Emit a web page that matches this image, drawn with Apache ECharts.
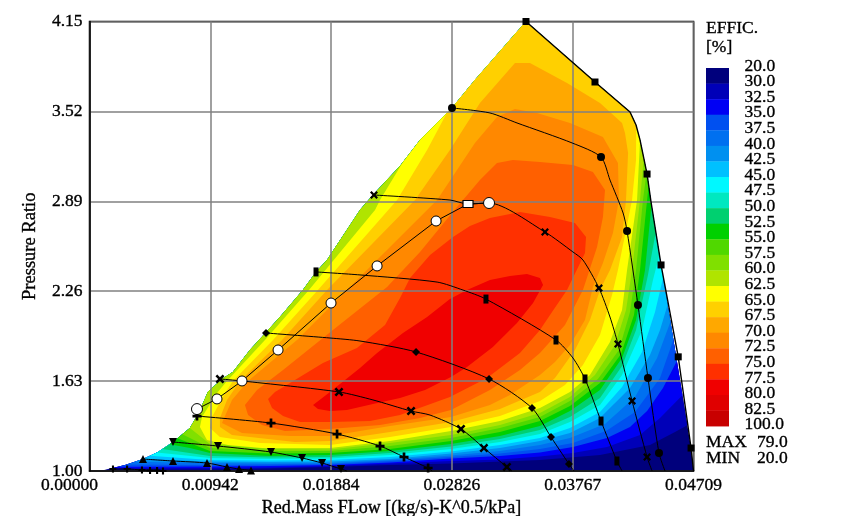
<!DOCTYPE html>
<html><head><meta charset="utf-8">
<style>html,body{margin:0;padding:0;background:#fff}#c{width:847px;height:516px}</style>
<script src="https://cdn.jsdelivr.net/npm/echarts@6/dist/echarts.min.js"></script>
</head><body><div id="c"></div>
<script>
const xTickLabels=['0.00000','0.00942','0.01884','0.02826','0.03767','0.04709'];
const legendLabels=['20.0','30.0','32.5','35.0','37.5','40.0','42.5','45.0','47.5','50.0','52.5','55.0','57.5','60.0','62.5','65.0','67.5','70.0','72.5','75.0','77.5','80.0','82.5','100.0'];
const bandColors=['#00007c','#0000b8','#0000f4','#0050f0','#0070f0','#0090f0','#00c0ff','#00f8ff','#00e8c0','#00d070','#00d000','#50d800','#80e000','#b0e400','#ffff00','#ffd000','#ffa800','#ff8800','#ff6000','#ff3000','#f00000','#e00000','#c80000'];
const maxEff='79.0', minEff='20.0';
// performance-map envelope: flow, pressure ratio
const envelope=[[.00082,1],[.00277,1.042],[.00417,1.084],[.00534,1.133],[.00651,1.203],[.00783,1.301],[.00838,1.385],[.00869,1.441],[.00923,1.554],[.01033,1.645],[.01118,1.694],[.01251,1.848],[.01485,2.079],[.01664,2.268],[.01766,2.395],[.01852,2.479],[.02109,2.829],[.0221,2.934],[.02421,3.137],[.02577,3.32],[.02826,3.544],[.03005,3.74],[.03403,4.15],[.03941,3.726],[.04214,3.516],[.04261,3.425],[.04292,3.32],[.04347,3.081],[.04378,2.885],[.04456,2.444],[.04573,1.806],[.0469,1.161],[.04709,1]];
// efficiency contours that end on the envelope
const c30=[[.00129,1.007],[.00939,1.011],[.01407,1.018],[.01875,1.028],[.02343,1.042],[.02818,1.053],[.03512,1.077],[.0398,1.112],[.0437,1.182],[.04565,1.273],[.04674,1.322]];
const c32=[[.00176,1.018],[.00939,1.021],[.01407,1.025],[.01875,1.035],[.02343,1.053],[.02818,1.07],[.032,1.081],[.03512,1.102],[.03769,1.126],[.04035,1.168],[.04292,1.252],[.04448,1.371],[.04635,1.533]];
const c35=[[.00222,1.028],[.00939,1.032],[.01407,1.035],[.01875,1.042],[.02343,1.06],[.02818,1.088],[.032,1.105],[.03512,1.13],[.03769,1.168],[.04035,1.231],[.04214,1.308],[.04347,1.42],[.04471,1.582],[.04581,1.771]];
const c37=[[.00293,1.042],[.00939,1.042],[.01407,1.046],[.01875,1.049],[.02343,1.07],[.02818,1.098],[.032,1.123],[.03512,1.154],[.03769,1.196],[.04027,1.28],[.04253,1.413],[.04448,1.652],[.04542,1.918]];
const c40=[[.00355,1.063],[.00939,1.056],[.01407,1.053],[.01875,1.056],[.02343,1.077],[.02818,1.109],[.032,1.14],[.03512,1.182],[.03746,1.231],[.04019,1.329],[.04253,1.519],[.04425,1.792],[.04518,2.044]];
const c42=[[.00417,1.084],[.00939,1.067],[.01407,1.063],[.01875,1.067],[.02343,1.084],[.02818,1.123],[.032,1.161],[.03512,1.21],[.03746,1.266],[.0398,1.371],[.04214,1.582],[.0437,1.813],[.04448,1.988],[.04495,2.163]];
const c45=[[.00472,1.105],[.00939,1.077],[.01407,1.074],[.01875,1.077],[.02343,1.098],[.02818,1.137],[.032,1.182],[.03512,1.231],[.03746,1.301],[.0398,1.413],[.04152,1.589],[.04308,1.834],[.04409,2.114],[.04456,2.353]];
const c47=[[.00527,1.126],[.00939,1.091],[.01407,1.084],[.01875,1.088],[.02343,1.112],[.02818,1.154],[.032,1.203],[.03512,1.259],[.03746,1.343],[.0398,1.463],[.04152,1.673],[.04308,1.988],[.04393,2.338],[.04432,2.514]];
const c50=[[.00573,1.147],[.00939,1.105],[.01407,1.095],[.01875,1.098],[.02343,1.126],[.02818,1.172],[.032,1.224],[.03512,1.287],[.03746,1.378],[.0398,1.512],[.04152,1.736],[.04261,1.988],[.04354,2.374],[.04409,2.675]];
const c52=[[.00628,1.182],[.00783,1.161],[.00939,1.126],[.01407,1.105],[.01875,1.112],[.02343,1.14],[.02818,1.189],[.032,1.245],[.03512,1.315],[.03746,1.42],[.0398,1.568],[.04152,1.792],[.04261,2.058],[.04331,2.409],[.04378,2.864]];
const c55=[[.0069,1.224],[.00939,1.14],[.01407,1.123],[.01875,1.126],[.02343,1.154],[.02818,1.21],[.032,1.273],[.03512,1.35],[.03746,1.456],[.0398,1.617],[.04144,1.82],[.04245,2.093],[.04292,2.409],[.04354,3.004]];
const c57=[[.00729,1.252],[.00939,1.161],[.01407,1.14],[.01875,1.14],[.02343,1.175],[.02818,1.231],[.032,1.301],[.03512,1.378],[.03746,1.491],[.03964,1.645],[.04128,1.848],[.04214,2.114],[.04261,2.409],[.04315,2.899],[.04339,3.095]];
const c60=[[.00783,1.301],[.00939,1.189],[.01407,1.154],[.01875,1.151],[.02343,1.196],[.02818,1.252],[.032,1.322],[.03512,1.406],[.03746,1.519],[.03941,1.673],[.04097,1.883],[.04183,2.128],[.0423,2.409],[.04292,2.899],[.04323,3.193]];
const c62=[[.02437,3.158],[.02265,2.899],[.02226,2.829],[.01711,2.268],[.01368,1.918],[.01072,1.631],[.00994,1.547],[.00877,1.378],[.00861,1.308],[.00916,1.217],[.0108,1.182],[.01345,1.161],[.01875,1.161],[.02343,1.21],[.02818,1.28],[.032,1.35],[.03512,1.441],[.03746,1.554],[.03902,1.673],[.04058,1.904],[.04152,2.128],[.04191,2.409],[.04269,2.899],[.043,3.32]];
const c65=[[.02788,3.502],[.02632,3.249],[.02398,2.899],[.01781,2.268],[.01431,1.918],[.01118,1.631],[.01048,1.533],[.00955,1.378],[.00939,1.301],[.01017,1.238],[.01329,1.196],[.01875,1.182],[.02343,1.238],[.02818,1.308],[.032,1.385],[.03512,1.491],[.03707,1.603],[.03847,1.743],[.0398,1.953],[.04074,2.233],[.0412,2.409],[.0423,2.899],[.04261,3.179],[.04276,3.425]];
// closed contours
const c67=[[.03317,3.859],[.03044,3.579],[.0281,3.249],[.02538,2.899],[.01852,2.268],[.01501,1.918],[.01173,1.631],[.01072,1.498],[.01017,1.371],[.01017,1.308],[.01111,1.252],[.01602,1.203],[.01875,1.21],[.02343,1.273],[.02818,1.343],[.032,1.434],[.03512,1.554],[.03629,1.652],[.03785,1.848],[.03902,2.058],[.0398,2.268],[.04058,2.409],[.04152,2.64],[.04183,2.899],[.04199,3.228],[.04175,3.369],[.04152,3.439],[.0398,3.579],[.03723,3.719],[.03434,3.859]];
const c70=[[.03317,3.537],[.03177,3.481],[.03005,3.299],[.0271,2.899],[.02007,2.268],[.01618,1.918],[.01236,1.631],[.01111,1.498],[.01033,1.336],[.01189,1.266],[.01563,1.245],[.01875,1.245],[.02343,1.315],[.02818,1.378],[.03122,1.463],[.03278,1.533],[.03512,1.673],[.03629,1.764],[.03746,1.883],[.03863,2.058],[.03925,2.289],[.04003,2.458],[.04081,2.668],[.04128,2.899],[.0412,3.158],[.04003,3.341],[.03746,3.439],[.03489,3.509]];
const c72=[[.01212,1.463],[.01306,1.568],[.01509,1.708],[.01898,1.988],[.0232,2.289],[.02577,2.535],[.02826,2.808],[.03044,3.039],[.03177,3.158],[.03301,3.179],[.03512,3.165],[.03769,3.144],[.03925,3.095],[.04019,2.969],[.04003,2.78],[.03957,2.57],[.03847,2.268],[.03707,2.023],[.03512,1.827],[.03356,1.708],[.03122,1.568],[.02818,1.427],[.02577,1.371],[.02265,1.322],[.01875,1.294],[.01524,1.28],[.01345,1.322],[.01236,1.392]];
const c75=[[.01392,1.505],[.01446,1.554],[.01563,1.617],[.0182,1.757],[.02085,1.862],[.02304,2.023],[.02421,2.212],[.02499,2.353],[.02655,2.514],[.02834,2.64],[.02966,2.717],[.03122,2.773],[.03356,2.815],[.0359,2.78],[.03785,2.738],[.03871,2.64],[.03863,2.528],[.03723,2.268],[.03606,2.114],[.03512,1.988],[.03356,1.827],[.03099,1.652],[.0281,1.519],[.02421,1.392],[.02187,1.35],[.01875,1.343],[.01641,1.343],[.01509,1.385],[.01423,1.441]];
const c77=[[.01743,1.463],[.01875,1.554],[.02109,1.722],[.02242,1.827],[.02444,1.967],[.02632,2.079],[.0281,2.205],[.02943,2.268],[.03122,2.338],[.03278,2.366],[.03411,2.381],[.03512,2.353],[.03536,2.303],[.03458,2.177],[.03333,2.037],[.03145,1.869],[.02943,1.729],[.02818,1.659],[.02616,1.568],[.02421,1.512],[.0221,1.47],[.02007,1.427],[.01875,1.42],[.01781,1.434]];
const openContours=[c30,c32,c35,c37,c40,c42,c45,c47,c50,c52,c55,c57,c60,c62,c65];
const closedContours=[c67,c70,c72,c75,c77];
// speed lines: flow, pressure ratio; a third value 0 means no measured-point marker
const speed1=[[.03403,4.15],[.03941,3.726],[.04214,3.516,0],[.04261,3.425,0],[.04292,3.32,0],[.04347,3.081],[.04378,2.885,0],[.04456,2.444],[.0459,1.8],[.0469,1.161],[.04709,1,0]];
const speed2=[[.02826,3.544],[.03122,3.509,0],[.03333,3.439,0],[.03762,3.299,0],[.03988,3.2],[.04058,3.039,0],[.0416,2.808,0],[.04191,2.682],[.04276,2.163],[.04354,1.652],[.0444,1.126],[.04487,1,0]];
const speed3=[[.02218,2.934],[.0281,2.899,0],[.02951,2.871,0],[.03115,2.878,0],[.03551,2.675],[.03769,2.535,0],[.03847,2.479,0],[.03972,2.282],[.04058,2.079,0],[.0412,1.89],[.0423,1.491],[.04347,1.098],[.04386,1,0]];
const speed4=[[.01766,2.395],[.02109,2.374,0],[.0271,2.324,0],[.02912,2.268,0],[.03091,2.205],[.03637,1.918],[.03769,1.792,0],[.03863,1.645],[.03988,1.35],[.04112,1.07],[.04152,1,0]];
const speed5=[[.01376,1.967],[.01875,1.932,0],[.02109,1.911,0],[.02546,1.834],[.03115,1.645],[.0345,1.441],[.03598,1.238],[.03738,1.049],[.03777,1,0]];
const speed6=[[.01017,1.645],[.01189,1.631,0],[.01945,1.554],[.0221,1.498,0],[.02507,1.42],[.02655,1.392,0],[.02896,1.294],[.03075,1.161],[.03254,1.028],[.03294,1,0]];
const speed7=[[.00838,1.385],[.01415,1.336],[.0193,1.259],[.02265,1.175],[.02452,1.098],[.0264,1.021],[.02671,1,0]];
const speed8=[[.00651,1.203],[.01002,1.175],[.01415,1.133],[.01657,1.091],[.01813,1.056],[.01961,1.014],[.02007,1,0]];
const speed9=[[.00417,1.084],[.00651,1.07],[.00916,1.056],[.01072,1.028],[.01166,1.014],[.01259,1.004]];
const speed10=[[.00183,1.014],[.00293,1.014],[.00409,1.007],[.00472,1.004],[.00527,1.004],[.00573,1]];
const surgeLine=[[.00838,1.434],[.00994,1.505],[.01189,1.631],[.0147,1.848],[.01883,2.177],[.02242,2.437],[.02702,2.752],[.02951,2.871],[.03115,2.878]];

const X='path://M2 0L5 3L8 0L10 2L7 5L10 8L8 10L5 7L2 10L0 8L3 5L0 2Z';
const DOWN='path://M0 0L10 0L5 10Z';
const PLUS='path://M3.5 0L6.5 0L6.5 3.5L10 3.5L10 6.5L6.5 6.5L6.5 10L3.5 10L3.5 6.5L0 6.5L0 3.5L3.5 3.5Z';
const FONT='"Liberation Serif","Times New Roman",serif';
const FS=17.5;
const HEAVY={textBorderColor:'#000',textBorderWidth:0.35};

// close an open contour along the envelope, over the top of the map
const SX=1/7.8e-5, SY=1/0.007;
function project(p){
  let best=null;
  for(let i=0;i<envelope.length-1;i++){
    const a=envelope[i],b=envelope[i+1];
    const dx=(b[0]-a[0])*SX,dy=(b[1]-a[1])*SY;
    let t=(((p[0]-a[0])*SX)*dx+((p[1]-a[1])*SY)*dy)/(dx*dx+dy*dy);
    t=Math.max(0,Math.min(1,t));
    const q=[a[0]+(b[0]-a[0])*t,a[1]+(b[1]-a[1])*t];
    const d=Math.hypot((q[0]-p[0])*SX,(q[1]-p[1])*SY);
    if(!best||d<best.d)best={d,i,q};
  }
  return best;
}
function closeOnEnvelope(path){
  const s=project(path[0]),e=project(path[path.length-1]);
  const out=[s.q].concat(path.slice(1,-1),[e.q]);
  for(let i=e.i;i>=s.i+1;i--)out.push(envelope[i]);
  return out;
}
const polygons=[envelope].concat(openContours.map(closeOnEnvelope),closedContours);

function speedSeries(pts,symbol,size){
  return {type:'line',z:5,clip:false,smooth:0.25,showSymbol:true,showAllSymbol:true,animation:false,silent:true,
    lineStyle:{color:'#000',width:1},itemStyle:{color:'#000'},
    data:pts.map(p=>({value:[p[0],p[1]],symbol:p[2]===0?'none':symbol,symbolSize:size}))};
}
const series=[
 {type:'custom',coordinateSystem:'cartesian2d',z:1,clip:false,animation:false,silent:true,
  data:polygons.map(p=>p[0]),
  renderItem(params,api){
    const pts=polygons[params.dataIndex].map(p=>api.coord(p));
    return {type:'polygon',shape:{points:pts},style:{fill:bandColors[params.dataIndex]}};
  }},
 Object.assign(speedSeries(speed1,'rect',7),{smooth:false,lineStyle:{color:'#000',width:1.4}}),
 speedSeries(speed2,'circle',8),
 speedSeries(speed3,X,8),
 speedSeries(speed4,'rect',[5,9]),
 speedSeries(speed5,'diamond',8),
 speedSeries(speed6,X,9),
 speedSeries(speed7,PLUS,9),
 speedSeries(speed8,DOWN,8),
 speedSeries(speed9,'triangle',8),
 speedSeries(speed10,PLUS,7),
 {type:'line',z:6,clip:false,animation:false,silent:true,showAllSymbol:true,
  lineStyle:{color:'#000',width:1},
  itemStyle:{color:'#fff',borderColor:'#000',borderWidth:1,opacity:1},
  data:surgeLine.map((p,i)=>({value:p,
     symbol:i===7?'rect':'circle',
     symbolSize:i===7?[10,7]:(i===0||i===8?11:10)}))}
];
const graphic=[];
bandColors.forEach((col,i)=>{
  graphic.push({type:'rect',silent:true,shape:{x:706,y:68+i*15.57,width:23,height:15.9},style:{fill:col}});
});
const textStyle=(t)=>({text:t,font:FS+'px '+FONT,fill:'#000',stroke:'#000',lineWidth:0.35,textVerticalAlign:'middle'});
legendLabels.forEach((t,i)=>{
  graphic.push({type:'text',silent:true,x:744.5,y:66+i*15.6,style:textStyle(t)});
});
[['EFFIC.',706,28],['[%]',706,47],['MAX',706,442],[maxEff,757,442],['MIN',706,458],[minEff,757,458]].forEach(a=>{
  graphic.push({type:'text',silent:true,x:a[1],y:a[2],style:textStyle(a[0])});
});
const chart=echarts.init(document.getElementById('c'),null,{renderer:'canvas'});
chart.setOption({
  animation:false,backgroundColor:'#fff',
  grid:{left:89.5,right:153.5,top:21.5,bottom:45,outerBoundsMode:'none',show:true,borderColor:'#000',borderWidth:1.5,backgroundColor:'#fff'},
  xAxis:{type:'value',z:3,min:0,max:0.04709,interval:0.009418,
    name:'Red.Mass FLow [(kg/s)-K^0.5/kPa]',nameLocation:'middle',nameGap:22,
    nameTextStyle:Object.assign({fontFamily:FONT,fontSize:18,color:'#000'},HEAVY),
    axisLine:{show:true,lineStyle:{color:'#000',width:1.5}},axisTick:{show:false},
    splitLine:{show:true,lineStyle:{color:'#808080',width:1.5}},
    axisLabel:Object.assign({margin:5,showMinLabel:true,showMaxLabel:true,fontFamily:FONT,fontSize:FS,color:'#000',
      formatter:(v,i)=>i===0?'{a|'+xTickLabels[0]+'}':xTickLabels[i],
      rich:{a:Object.assign({fontFamily:FONT,fontSize:FS,color:'#000',padding:[0,40,0,0]},HEAVY)}},HEAVY)},
  yAxis:{type:'value',z:3,min:1,max:4.15,interval:0.63,
    name:'Pressure Ratio',nameLocation:'middle',nameGap:50,
    nameTextStyle:Object.assign({fontFamily:FONT,fontSize:18.5,color:'#000'},HEAVY),
    axisLine:{show:true,lineStyle:{color:'#000',width:1.5}},axisTick:{show:false},
    splitLine:{show:true,lineStyle:{color:'#808080',width:1.5}},
    axisLabel:Object.assign({margin:7,fontFamily:FONT,fontSize:FS,color:'#000',formatter:v=>v.toFixed(2)},HEAVY)},
  series,graphic
});
</script></body></html>
